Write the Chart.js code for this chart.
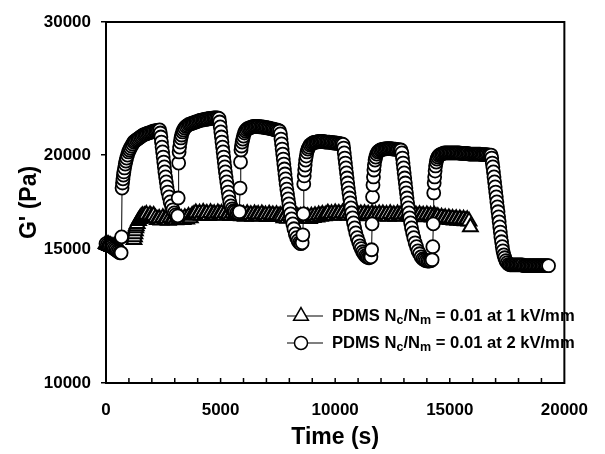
<!DOCTYPE html>
<html>
<head>
<meta charset="utf-8">
<script src="https://cdn.jsdelivr.net/npm/chart.js@4.4.0/dist/chart.umd.min.js"></script>
<style>
  html, body { margin: 0; padding: 0; background: #fff; }
</style>
</head>
<body>
<canvas id="myChart" width="605" height="454"></canvas>
<script>
// values: time (s) and G' (Pa)
const time1kV = [
  0, 50, 100, 150, 200, 250, 300, 350, 400, 450, 500,
  1220, 1240, 1260, 1280, 1300, 1320, 1360, 1420, 1480, 1540, 1600,
  1680, 1760, 1840, 1920, 2000, 2080,
  2160, 2240, 2320, 2400, 2480, 2560, 2640, 2720, 2800, 2880, 2960, 3040, 3120, 3200, 3280, 3360, 3440, 3520, 3600, 3680, 3760, 3840,
  3920, 4000, 4080, 4160, 4240, 4320, 4400, 4480, 4560, 4640, 4720, 4800, 4880, 4960, 5040, 5120, 5200, 5280, 5360, 5440, 5520, 5600, 5680, 5760,
  5840, 5920, 6000, 6080, 6160, 6240, 6320, 6400, 6480, 6560, 6640, 6720, 6800, 6880, 6960, 7040, 7120, 7200, 7280, 7360, 7440, 7520, 7600,
  7680, 7760, 7840, 7920, 8000, 8080, 8160, 8240, 8320, 8400, 8480, 8560, 8640, 8720, 8800, 8880, 8960, 9040, 9120, 9200, 9280, 9360, 9440, 9520, 9600,
  9680, 9760, 9840, 9920, 10000, 10080, 10160, 10240, 10320, 10400, 10480, 10560, 10640, 10720, 10800, 10880, 10960, 11040, 11120, 11200, 11280, 11360, 11440, 11520, 11600, 11680, 11760, 11840, 11920, 12000,
  12080, 12160, 12240, 12320, 12400, 12480, 12560, 12640, 12720, 12800, 12880, 12960, 13040, 13120, 13200, 13280, 13360, 13440, 13520, 13600, 13680, 13760, 13840, 13920, 14000, 14080, 14160, 14240, 14320, 14400,
  14480, 14560, 14640, 14720, 14800, 14880, 14960, 15040, 15120, 15200, 15280, 15360, 15440, 15520, 15600, 15680, 15760, 15840,
  15900
];
const g1kV = [
  15280, 15230, 15230, 15180, 15180, 15140, 15140, 15140, 15180, 15180, 15230,
  15460, 15600, 15740, 15880, 16030, 16130, 16230, 16380, 16480, 16580, 16630,
  16630, 16700, 16580, 16680, 16600, 16650,
  16520, 16430, 16500, 16410, 16540, 16450, 16490, 16400, 16530, 16460, 16510, 16420, 16550, 16470, 16500, 16430, 16540, 16460, 16600, 16520, 16650, 16700,
  16780, 16680, 16760, 16650, 16800, 16700, 16750, 16640, 16790, 16690, 16740, 16660, 16780, 16700, 16750, 16650, 16770, 16680, 16730, 16640, 16760, 16670, 16720, 16640,
  16720, 16620, 16700, 16600, 16740, 16640, 16690, 16600, 16730, 16650, 16700, 16610, 16720, 16630, 16680, 16590, 16710, 16620, 16670, 16580, 16690, 16600, 16650,
  16620, 16520, 16600, 16500, 16640, 16540, 16590, 16500, 16630, 16550, 16600, 16510, 16620, 16530, 16580, 16490, 16610, 16540, 16640, 16560, 16680, 16600, 16700, 16620, 16690,
  16760, 16660, 16740, 16650, 16780, 16690, 16750, 16660, 16770, 16680, 16740, 16650, 16760, 16670, 16730, 16640, 16750, 16660, 16720, 16630, 16740, 16650, 16710, 16620, 16730, 16640, 16700, 16610, 16720, 16640,
  16720, 16620, 16700, 16600, 16740, 16640, 16690, 16600, 16730, 16650, 16700, 16610, 16720, 16630, 16680, 16590, 16710, 16620, 16670, 16580, 16690, 16600, 16660, 16570, 16680, 16590, 16650, 16560, 16660, 16580,
  16580, 16490, 16560, 16470, 16540, 16450, 16520, 16430, 16500, 16410, 16490, 16400, 16470, 16380, 16460, 16370, 16440, 16360,
  16080
];
const time2kV = [
  0, 60, 120, 180, 240, 300, 360, 420, 480, 540, 600, 660, 680,
  700, 720, 740, 760, 780, 810, 840, 870, 900, 940, 980, 1020, 1060, 1110, 1160, 1210, 1260, 1320, 1380, 1440, 1500, 1560, 1620, 1680, 1740, 1800, 1860, 1920, 1980, 2040, 2100, 2160, 2220, 2280, 2340,
  2370, 2395, 2420, 2445, 2470, 2495, 2520, 2545, 2570, 2600, 2630, 2660, 2700, 2750, 2800, 2860, 2920, 2980, 3040, 3100,
  3130, 3150, 3170, 3190, 3210, 3240, 3270, 3300, 3340, 3380, 3430, 3490, 3550, 3610, 3670, 3730, 3790, 3850, 3910, 3970, 4030, 4090, 4150, 4210, 4270, 4330, 4390, 4450, 4510, 4570, 4630, 4690, 4750, 4810, 4870, 4930,
  4960, 4985, 5010, 5035, 5060, 5085, 5110, 5135, 5160, 5185, 5210, 5240, 5270, 5300, 5330, 5360, 5400, 5450, 5510, 5570, 5630, 5700, 5770, 5820,
  5850, 5870, 5890, 5910, 5940, 5970, 6000, 6040, 6080, 6130, 6190, 6250, 6310, 6370, 6430, 6490, 6550, 6610, 6670, 6730, 6790, 6850, 6910, 6970, 7030, 7090, 7150, 7210, 7270, 7330, 7390, 7450, 7510, 7570,
  7610, 7635, 7660, 7685, 7710, 7735, 7760, 7785, 7810, 7835, 7860, 7890, 7920, 7950, 7980, 8010, 8050, 8100, 8150, 8200, 8260, 8320, 8380, 8440, 8500, 8560,
  8590, 8610, 8630, 8650, 8670, 8690, 8710, 8740, 8770, 8810, 8850, 8900, 8960, 9020, 9080, 9140, 9200, 9260, 9320, 9380, 9440, 9500, 9560, 9620, 9680, 9740, 9800, 9860, 9920, 9980, 10040, 10100, 10160, 10220, 10280, 10340,
  10370, 10395, 10420, 10445, 10470, 10495, 10520, 10545, 10570, 10600, 10630, 10660, 10690, 10720, 10760, 10800, 10850, 10900, 10960, 11020, 11080, 11140, 11200, 11260, 11320, 11380, 11440, 11500, 11560,
  11590, 11610, 11630, 11650, 11670, 11690, 11710, 11740, 11770, 11810, 11860, 11910, 11970, 12030, 12090, 12150, 12210, 12270, 12330, 12390, 12450, 12510, 12570, 12630, 12690, 12750, 12810, 12870,
  12910, 12935, 12960, 12985, 13010, 13035, 13060, 13085, 13110, 13135, 13160, 13190, 13220, 13250, 13290, 13330, 13380, 13430, 13490, 13550, 13610, 13680, 13750, 13820, 13890, 13960, 14030, 14100, 14170, 14230,
  14260, 14280, 14300, 14320, 14340, 14360, 14380, 14410, 14440, 14480, 14530, 14580, 14640, 14700, 14760, 14820, 14880, 14940, 15000, 15060, 15120, 15180, 15240, 15300, 15360, 15420, 15480, 15540, 15600, 15660, 15720, 15780, 15840, 15900, 15960, 16020, 16080, 16140, 16200, 16260, 16320, 16380, 16440, 16500, 16560, 16620, 16680, 16740, 16800,
  16830, 16855, 16880, 16905, 16930, 16955, 16980, 17005, 17030, 17055, 17080, 17105, 17130, 17155, 17180, 17205, 17230, 17260, 17290, 17320, 17360, 17400, 17450, 17510, 17570,
  17630, 17690, 17750, 17810, 17870, 17930, 17990, 18050, 18110, 18170, 18230, 18290, 18350, 18410, 18470, 18530, 18590, 18650, 18710, 18770, 18830, 18890, 18950, 19010, 19070, 19130, 19190, 19250, 19310
];
const g2kV = [
  15280, 15230, 15180, 15180, 15140, 15090, 15050, 15000, 14950, 14910, 14860, 14860, 15600,
  18100, 18380, 18610, 18830, 19010, 19240, 19470, 19650, 19830, 20010, 20200, 20320, 20440, 20570, 20700, 20820, 20890, 20950, 21010, 21080, 21140, 21200, 21270, 21300, 21340, 21370, 21400, 21430, 21470, 21500, 21530, 21530, 21570, 21570, 21600,
  21400, 21140, 20820, 20500, 20200, 19890, 19590, 19300, 19010, 18720, 18440, 18160, 17880, 17620, 17350, 17140, 16940, 16780, 16680, 16580,
  16630, 17560, 19530, 20200, 20500, 20820, 21080, 21270, 21470, 21600, 21730, 21830, 21890, 21960, 21990, 22030, 22060, 22090, 22130, 22160, 22190, 22230, 22260, 22260, 22300, 22300, 22330, 22330, 22370, 22370, 22370, 22400, 22400, 22400, 22400, 22370,
  22130, 21800, 21470, 21140, 20820, 20500, 20200, 19890, 19590, 19300, 19010, 18720, 18440, 18160, 17880, 17620, 17350, 17140, 16990, 16890, 16840, 16780, 16780, 16840,
  18100, 19590, 20320, 20570, 20820, 21010, 21200, 21400, 21530, 21630, 21700, 21730, 21760, 21800, 21830, 21830, 21830, 21830, 21830, 21800, 21800, 21800, 21760, 21760, 21730, 21730, 21700, 21670, 21670, 21630, 21600, 21600, 21570, 21530,
  21340, 21010, 20700, 20380, 20070, 19770, 19470, 19180, 18890, 18610, 18330, 18040, 17780, 17510, 17250, 16990, 16730, 16480, 16230, 15990, 15740, 15560, 15420, 15320, 15280, 15320,
  15700, 16730, 18330, 18780, 19120, 19410, 19710, 19950, 20200, 20380, 20500, 20630, 20700, 20760, 20790, 20820, 20820, 20860, 20860, 20860, 20860, 20860, 20820, 20820, 20820, 20820, 20790, 20790, 20760, 20760, 20760, 20730, 20730, 20700, 20700, 20670,
  20440, 20140, 19830, 19530, 19240, 18950, 18660, 18380, 18100, 17830, 17560, 17300, 17040, 16780, 16530, 16280, 16030, 15790, 15560, 15370, 15180, 15050, 14910, 14820, 14730, 14680, 14640, 14640, 14680,
  15000, 16230, 17620, 18270, 18720, 19120, 19410, 19710, 19890, 20070, 20200, 20260, 20320, 20350, 20380, 20380, 20410, 20410, 20410, 20410, 20410, 20380, 20380, 20380, 20350, 20350, 20320, 20320,
  20140, 19830, 19530, 19240, 18950, 18660, 18380, 18100, 17830, 17560, 17300, 17040, 16780, 16530, 16280, 16030, 15790, 15560, 15320, 15140, 14950, 14820, 14680, 14590, 14550, 14510, 14490, 14490, 14510, 14550,
  15140, 16230, 17830, 18380, 18720, 19060, 19360, 19590, 19770, 19890, 19980, 20040, 20070, 20110, 20140, 20140, 20140, 20140, 20140, 20140, 20140, 20140, 20140, 20140, 20140, 20140, 20110, 20110, 20110, 20110, 20110, 20110, 20070, 20070, 20070, 20070, 20070, 20070, 20070, 20070, 20070, 20040, 20040, 20040, 20040, 20040, 20010, 20010, 20010,
  19830, 19530, 19300, 19010, 18720, 18440, 18160, 17880, 17620, 17350, 17090, 16840, 16580, 16330, 16080, 15830, 15600, 15370, 15140, 14950, 14770, 14640, 14510, 14420, 14350,
  14330, 14330, 14330, 14330, 14330, 14330, 14330, 14330, 14330, 14330, 14290, 14290, 14290, 14290, 14290, 14290, 14290, 14290, 14290, 14290, 14290, 14290, 14290, 14290, 14290, 14290, 14290, 14290, 14290
];
const xTicks = [0, 5000, 10000, 15000, 20000];
const xMinorStep = 1000;
const yTicks = [10000, 15000, 20000, 30000];
// legend text split into normal / subscript pieces
const legend1kV = ['PDMS N', 'c', '/N', 'm', ' = 0.01 at 1 kV/mm'];
const legend2kV = ['PDMS N', 'c', '/N', 'm', ' = 0.01 at 2 kV/mm'];

const FONT = '"Liberation Sans", Arial, sans-serif';

function toPoints(ts, gs) {
  return ts.map((t, i) => ({x: t, y: gs[i]}));
}

function marker(ctx, style, x, y) {
  ctx.beginPath();
  if (style === 'triangle') {
    const r = 8.5;
    ctx.moveTo(x, y - r);
    ctx.lineTo(x + r * 0.866, y + r * 0.5);
    ctx.lineTo(x - r * 0.866, y + r * 0.5);
    ctx.closePath();
  } else {
    ctx.arc(x, y, 6.5, 0, Math.PI * 2);
  }
  ctx.fill();
  ctx.stroke();
}

const framePlugin = {
  id: 'frame',
  afterDraw(chart) {
    const {ctx, chartArea: a} = chart;
    const x = chart.scales.x;
    ctx.save();
    ctx.strokeStyle = '#000';
    ctx.lineWidth = 2;
    ctx.strokeRect(a.left, a.top, a.right - a.left, a.bottom - a.top);
    // inward minor ticks on the time axis
    ctx.lineWidth = 1.5;
    ctx.beginPath();
    for (let v = xMinorStep; v < x.max; v += xMinorStep) {
      const px = x.getPixelForValue(v);
      ctx.moveTo(px, a.bottom);
      ctx.lineTo(px, a.bottom - 5);
    }
    ctx.stroke();

    // legend with subscripts
    const rows = [
      {style: 'triangle', parts: legend1kV, y: 316},
      {style: 'circle', parts: legend2kV, y: 343}
    ];
    rows.forEach(row => {
      ctx.lineWidth = 1.2;
      ctx.beginPath();
      ctx.moveTo(287, row.y);
      ctx.lineTo(323, row.y);
      ctx.stroke();
      ctx.fillStyle = '#fff';
      ctx.lineWidth = 1.5;
      marker(ctx, row.style, 301, row.y);
      ctx.fillStyle = '#000';
      ctx.textBaseline = 'middle';
      let tx = 332;
      row.parts.forEach((p, i) => {
        const sub = i % 2 === 1;
        ctx.font = 'bold ' + (sub ? 12.5 : 16.6) + 'px ' + FONT;
        ctx.fillText(p, tx, sub ? row.y + 5 : row.y);
        tx += ctx.measureText(p).width;
      });
    });
    ctx.restore();
  }
};

new Chart(document.getElementById('myChart'), {
  type: 'scatter',
  data: {
    datasets: [
      {
        label: 'PDMS Nc/Nm = 0.01 at 2 kV/mm',
        data: toPoints(time2kV, g2kV),
        showLine: true,
        borderColor: '#000',
        borderWidth: 1,
        pointStyle: 'circle',
        pointRadius: 6.5,
        pointBackgroundColor: '#fff',
        pointBorderColor: '#000',
        pointBorderWidth: 1.8,
        clip: false
      },
      {
        label: 'PDMS Nc/Nm = 0.01 at 1 kV/mm',
        data: toPoints(time1kV, g1kV),
        showLine: true,
        borderColor: '#000',
        borderWidth: 1,
        pointStyle: 'triangle',
        pointRadius: 8.5,
        pointBackgroundColor: '#fff',
        pointBorderColor: '#000',
        pointBorderWidth: 2,
        clip: false
      }
    ]
  },
  options: {
    responsive: false,
    animation: false,
    devicePixelRatio: 1,
    layout: {padding: {left: 0, right: 31, top: 22, bottom: 0}},
    plugins: {legend: {display: false}, tooltip: {enabled: false}},
    scales: {
      x: {
        type: 'linear',
        min: 0,
        max: 20000,
        afterBuildTicks: s => { s.ticks = xTicks.map(v => ({value: v})); },
        afterFit: s => { s.height = 71; },
        grid: {display: false, drawTicks: false},
        border: {display: false},
        ticks: {
          color: '#000',
          padding: 17,
          autoSkip: false,
          maxRotation: 0,
          font: {family: FONT, size: 17, weight: 'bold'},
          callback: v => String(v)
        },
        title: {
          display: true,
          text: 'Time (s)',
          color: '#000',
          font: {family: FONT, size: 23, weight: 'bold', lineHeight: 1.2},
          padding: {top: 0, bottom: 3}
        }
      },
      y: {
        type: 'logarithmic',
        min: 10000,
        max: 30000,
        afterBuildTicks: s => { s.ticks = yTicks.map(v => ({value: v})); },
        afterFit: s => { s.width = 106; },
        grid: {drawOnChartArea: false, drawTicks: true, tickLength: 5, color: '#000', lineWidth: 1.5},
        border: {display: false},
        ticks: {
          color: '#000',
          padding: 10,
          autoSkip: false,
          font: {family: FONT, size: 17, weight: 'bold'},
          callback: v => String(v)
        },
        title: {
          display: true,
          text: "G' (Pa)",
          color: '#000',
          font: {family: FONT, size: 23, weight: 'bold', lineHeight: 1.2},
          padding: {top: 16, bottom: 0}
        }
      }
    }
  },
  plugins: [framePlugin]
});
</script>
</body>
</html>
